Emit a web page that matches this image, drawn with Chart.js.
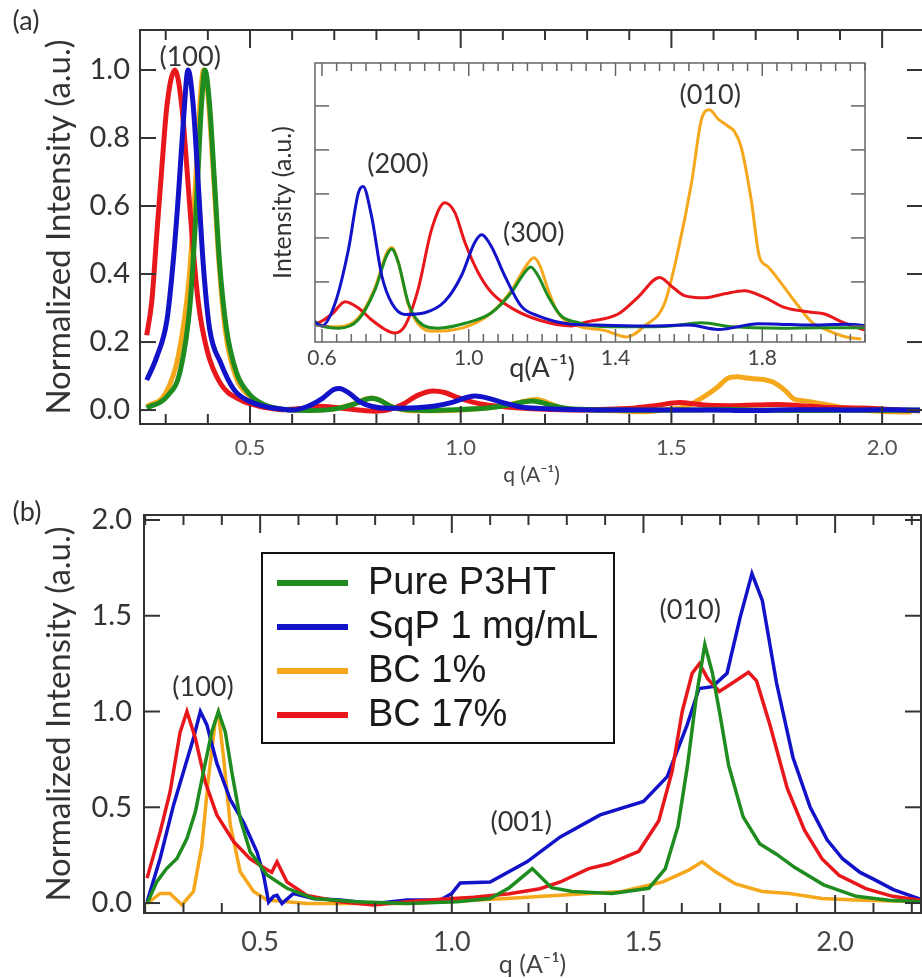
<!DOCTYPE html>
<html>
<head>
<meta charset="utf-8">
<title>P3HT line cuts</title>
<script src="https://cdn.jsdelivr.net/npm/chart.js@4.4.1/dist/chart.umd.min.js"></script>
<style>
  html, body { margin: 0; padding: 0; background: #fff; overflow: hidden; }
  #page { position: relative; width: 922px; height: 978px; overflow: hidden; }
  canvas { position: absolute; }
  #panelA { left: 0; top: 0; }
  #inset { left: 250px; top: 50px; }
  #panelB { left: 0; top: 490px; }
</style>
</head>
<body>
<div id="page">
  <canvas id="panelA" width="940" height="490"></canvas>
  <canvas id="inset" width="630" height="340"></canvas>
  <canvas id="panelB" width="940" height="488"></canvas>
</div>
<script>
// ---- series labels and colours ----
const seriesNames = ['Pure P3HT', 'SqP 1 mg/mL', 'BC 1%', 'BC 17%'];
const seriesColors = ['#1e8c1e', '#1212c8', '#f5a81c', '#e8171b'];

// ---- panel (a): [q, normalized intensity] ----
const greenA = [
  [0.255,0.006],[0.303,0.04],[0.335,0.118],[0.358,0.314],[0.373,0.608],[0.385,0.9],[0.393,1.0],[0.404,0.9],
  [0.416,0.667],[0.428,0.43],[0.444,0.24],[0.468,0.11],[0.5,0.045],[0.53,0.018],[0.56,0.006],[0.6,0],
  [0.645,-0.001],[0.699,0.0028],[0.745,0.0166],[0.776,0.0318],[0.79,0.035],[0.808,0.0288],[0.835,0.0106],
  [0.862,0.0022],[0.917,-0.001],[0.99,0.0012],[1.062,0.006],[1.116,0.0152],[1.152,0.0242],[1.169,0.0268],
  [1.189,0.0228],[1.216,0.0136],[1.252,0.0046],[1.297,0.0016],[1.343,0],[1.45,-0.0004],[1.55,0],
  [1.634,0.0014],[1.72,-0.0004],[1.85,-0.001],[1.95,-0.0008],[2.09,-0.0008]
];
const blueA = [
  [0.255,0.088],[0.279,0.157],[0.303,0.265],[0.318,0.44],[0.33,0.63],[0.342,0.85],[0.353,1.0],[0.365,0.9],
  [0.377,0.67],[0.389,0.43],[0.404,0.24],[0.43,0.14],[0.462,0.06],[0.5,0.025],[0.54,0.009],[0.58,0.002],
  [0.6,0],[0.636,0.0104],[0.672,0.0346],[0.699,0.0604],[0.712,0.0634],[0.735,0.05],[0.763,0.0228],
  [0.79,0.0104],[0.826,0.0052],[0.88,0.006],[0.935,0.0112],[0.98,0.0228],[1.016,0.0378],[1.035,0.0414],
  [1.062,0.036],[1.098,0.0228],[1.143,0.009],[1.189,0.0046],[1.28,0.0008],[1.35,0.0004],[1.5,0],
  [1.6,0.0004],[1.68,-0.0016],[1.79,0.001],[1.88,0.0006],[1.95,0.0004],[2.03,0.0008],[2.09,0]
];
const orangeA = [
  [0.255,0.01],[0.3,0.05],[0.33,0.16],[0.355,0.38],[0.37,0.65],[0.383,0.93],[0.39,1.0],[0.4,0.93],
  [0.413,0.7],[0.426,0.44],[0.442,0.23],[0.466,0.1],[0.5,0.04],[0.53,0.016],[0.56,0.005],[0.6,0],
  [0.645,-0.0004],[0.699,0.0036],[0.745,0.0176],[0.776,0.033],[0.79,0.0356],[0.808,0.029],[0.835,0.01],
  [0.862,0.001],[0.9,-0.0024],[0.95,-0.002],[1.0,0],[1.062,0.006],[1.116,0.016],[1.155,0.027],
  [1.178,0.031],[1.195,0.027],[1.216,0.0166],[1.243,0.006],[1.297,0],[1.37,-0.002],[1.43,-0.005],
  [1.479,0],[1.534,0.0104],[1.571,0.0346],[1.607,0.0648],[1.634,0.0936],[1.656,0.0982],[1.68,0.094],
  [1.705,0.091],[1.724,0.0884],[1.742,0.0816],[1.77,0.0572],[1.792,0.0316],[1.815,0.027],[1.892,0.0104],
  [1.937,0.0014],[1.964,-0.001],[2.028,-0.005],[2.07,-0.006]
];
const redA = [
  [0.255,0.22],[0.267,0.32],[0.279,0.52],[0.291,0.716],[0.303,0.896],[0.322,1.0],[0.338,0.896],[0.35,0.716],
  [0.362,0.52],[0.377,0.32],[0.398,0.176],[0.43,0.078],[0.477,0.03],[0.52,0.012],[0.555,0.004],
  [0.58,0.001],[0.627,0.0054],[0.663,0.011],[0.699,0.0082],[0.735,0.0028],[0.772,-0.0016],[0.797,-0.0032],
  [0.826,0],[0.862,0.0166],[0.899,0.044],[0.935,0.056],[0.962,0.0516],[0.99,0.0378],[1.026,0.0242],
  [1.062,0.0152],[1.116,0.0082],[1.189,0.0028],[1.28,0],[1.316,0.0016],[1.407,0.0054],[1.461,0.013],
  [1.52,0.022],[1.556,0.0176],[1.588,0.0138],[1.643,0.0128],[1.697,0.0146],[1.751,0.016],[1.806,0.013],
  [1.86,0.0084],[1.933,0.0062],[1.97,0.0054],[2.02,0.0016],[2.07,-0.0014],[2.09,-0.002]
];

// ---- panel (b): [q, normalized intensity] ----
const greenB = [
  [0.205,-0.003],[0.23,0.11],[0.256,0.18],[0.283,0.233],[0.309,0.337],[0.331,0.476],[0.352,0.685],[0.374,0.894],
  [0.391,1.0],[0.409,0.894],[0.426,0.685],[0.448,0.44],[0.474,0.267],[0.518,0.146],[0.57,0.077],[0.639,0.024],
  [0.752,0.007],[0.883,-0.003],[1.013,0.007],[1.1,0.024],[1.15,0.08],[1.21,0.18],[1.26,0.08],[1.314,0.06],
  [1.418,0.05],[1.514,0.077],[1.557,0.18],[1.59,0.4],[1.615,0.72],[1.638,1.08],[1.66,1.35],[1.68,1.2],
  [1.7,0.98],[1.722,0.72],[1.76,0.45],[1.803,0.31],[1.847,0.255],[1.895,0.185],[1.97,0.095],[2.055,0.035],
  [2.14,0.015],[2.222,0.007]
];
const blueB = [
  [0.205,0.005],[0.239,0.233],[0.274,0.511],[0.305,0.72],[0.326,0.86],[0.344,1.0],[0.361,0.93],[0.387,0.73],
  [0.422,0.54],[0.457,0.42],[0.492,0.265],[0.509,0.146],[0.522,0.005],[0.535,0.035],[0.544,0.04],[0.557,-0.003],
  [0.587,0.05],[0.639,0.024],[0.709,0.016],[0.796,-0.003],[0.883,0.016],[0.97,0.016],[1.0,0.05],[1.022,0.105],
  [1.1,0.11],[1.196,0.215],[1.283,0.345],[1.387,0.46],[1.5,0.53],[1.562,0.66],[1.614,0.93],[1.645,1.12],
  [1.68,1.13],[1.718,1.2],[1.752,1.49],[1.783,1.72],[1.81,1.58],[1.847,1.15],[1.89,0.76],[1.935,0.5],
  [1.979,0.33],[2.02,0.23],[2.065,0.16],[2.1,0.125],[2.152,0.07],[2.222,0.02]
];
const orangeB = [
  [0.205,-0.003],[0.239,0.05],[0.265,0.05],[0.296,-0.01],[0.326,0.06],[0.348,0.3],[0.365,0.65],[0.383,0.95],
  [0.391,0.99],[0.404,0.77],[0.422,0.41],[0.448,0.163],[0.483,0.06],[0.518,0.016],[0.622,-0.003],[0.883,-0.003],
  [1.144,0.024],[1.27,0.04],[1.444,0.06],[1.549,0.11],[1.618,0.172],[1.653,0.215],[1.688,0.163],[1.74,0.1],
  [1.81,0.06],[1.88,0.05],[1.966,0.024],[2.053,0.016],[2.222,0.007]
];
const redB = [
  [0.205,0.13],[0.239,0.37],[0.265,0.58],[0.291,0.89],[0.309,1.0],[0.331,0.86],[0.357,0.63],[0.387,0.46],
  [0.431,0.32],[0.474,0.23],[0.513,0.18],[0.53,0.16],[0.544,0.215],[0.57,0.11],[0.622,0.04],[0.709,0.007],
  [0.796,-0.01],[0.883,0.007],[0.97,0.02],[1.057,0.03],[1.15,0.048],[1.23,0.075],[1.283,0.11],[1.357,0.18],
  [1.41,0.205],[1.488,0.27],[1.54,0.43],[1.575,0.69],[1.601,1.0],[1.627,1.2],[1.646,1.25],[1.668,1.17],
  [1.698,1.105],[1.737,1.155],[1.774,1.205],[1.795,1.16],[1.83,0.93],[1.875,0.6],[1.92,0.38],[1.966,0.23],
  [2.01,0.145],[2.08,0.075],[2.15,0.035],[2.222,0.015]
];

// ---- tick labels ----
const xTicksA = [0.5, 1.0, 1.5, 2.0];
const yTicksA = [0.0, 0.2, 0.4, 0.6, 0.8, 1.0];
const xTicksInset = [0.6, 1.0, 1.4, 1.8];
const yMarksInset = [0, 0.02, 0.04, 0.06, 0.08, 0.1];
const xTicksB = [0.5, 1.0, 1.5, 2.0];
const yTicksB = [0.0, 0.5, 1.0, 1.5, 2.0];

// ---- peak labels: [text, q, intensity] ----
const peaksA = [['(100)', 0.358, 1.038]];
const peaksInset = [['(200)', 0.807, 0.0736], ['(300)', 1.177, 0.0423], ['(010)', 1.658, 0.105]];
const peaksB = [['(100)', 0.351, 1.128], ['(001)', 1.181, 0.423], ['(010)', 1.622, 1.53]];

const TEXT = '#333';
const FONT = 'Lato, "Open Sans", sans-serif';

const toXY = pts => pts.map(p => ({ x: p[0], y: p[1] }));

// drawing order: lower "order" ends up on top
function makeDatasets(series, width, tension, orders) {
  return series.map((pts, i) => ({
    label: seriesNames[i],
    data: toXY(pts),
    borderColor: seriesColors[i],
    borderWidth: width,
    pointRadius: 0,
    fill: false,
    tension: tension,
    cubicInterpolationMode: tension ? 'monotone' : 'default',
    order: orders[i]
  }));
}

// box frame with inward tick marks on all four sides
const frameTicks = {
  id: 'frameTicks',
  beforeDraw(chart, args, o) {
    if (!o.fill) return;
    const a = chart.chartArea, ctx = chart.ctx;
    ctx.save();
    ctx.fillStyle = o.fill;
    ctx.fillRect(a.left, a.top, a.right - a.left, a.bottom - a.top);
    ctx.restore();
  },
  afterDraw(chart, args, o) {
    const { ctx, chartArea: a, scales } = chart;
    const mark = (x1, y1, x2, y2) => { ctx.beginPath(); ctx.moveTo(x1, y1); ctx.lineTo(x2, y2); ctx.stroke(); };
    const isMajor = v => o.xMajor.some(m => Math.abs(m - v) < 1e-6);
    ctx.save();
    ctx.strokeStyle = o.color;
    ctx.lineWidth = o.lineWidth;
    for (let i = 0; ; i++) {
      const v = +(o.xMinorFrom + i * o.xMinorStep).toFixed(4);
      if (v > scales.x.max) break;
      const px = scales.x.getPixelForValue(v);
      if (px <= a.left + 1) continue;
      const len = isMajor(v) ? o.majorLen : o.minorLen;
      mark(px, a.bottom, px, a.bottom - len);
      mark(px, a.top, px, a.top + len);
    }
    for (const v of o.yMarks) {
      const py = scales.y.getPixelForValue(v);
      mark(a.left, py, a.left + o.yLen, py);
      mark(a.right, py, a.right - o.yLen, py);
    }
    ctx.strokeRect(a.left, a.top, a.right - a.left, a.bottom - a.top);
    ctx.restore();
  }
};

// peak labels in data coordinates, plus free text in canvas pixels
const notes = {
  id: 'notes',
  afterDraw(chart, args, o) {
    const { ctx, scales: { x, y } } = chart;
    ctx.save();
    ctx.textAlign = 'center';
    ctx.textBaseline = 'middle';
    ctx.fillStyle = o.color;
    ctx.font = o.font;
    for (const [text, q, v] of o.peaks) ctx.fillText(text, x.getPixelForValue(q), y.getPixelForValue(v));
    for (const t of o.free) {
      ctx.font = t.font;
      const px = t.q !== undefined ? x.getPixelForValue(t.q) : t.px;
      ctx.fillText(t.text, px, t.py);
    }
    ctx.restore();
  }
};

// framed legend placed inside the plot
const boxLegend = {
  id: 'boxLegend',
  afterDraw(chart, args, o) {
    const ctx = chart.ctx;
    const [bx, by, bw, bh] = o.box;
    ctx.save();
    ctx.fillStyle = '#fff';
    ctx.fillRect(bx, by, bw, bh);
    ctx.strokeStyle = '#111';
    ctx.lineWidth = 2;
    ctx.strokeRect(bx, by, bw, bh);
    ctx.font = o.font;
    ctx.textAlign = 'left';
    ctx.textBaseline = 'middle';
    chart.data.datasets.forEach((ds, i) => {
      const yy = o.firstRow + i * o.rowGap;
      ctx.strokeStyle = ds.borderColor;
      ctx.lineWidth = o.sampleWidth;
      ctx.beginPath();
      ctx.moveTo(o.sampleX[0], yy);
      ctx.lineTo(o.sampleX[1], yy);
      ctx.stroke();
      ctx.fillStyle = '#1a1a1a';
      ctx.fillText(ds.label, o.textX, yy + 1);
    });
    ctx.restore();
  }
};

const fixTicks = list => scale => { scale.ticks = list.map(value => ({ value })); };
const oneDecimal = v => Number(v).toFixed(1);

// ---------- panel (a) ----------
new Chart(document.getElementById('panelA'), {
  type: 'line',
  data: { datasets: makeDatasets([greenA, blueA, orangeA, redA], 5, 0.4, [1, 0, 3, 2]) },
  options: {
    responsive: false,
    animation: false,
    events: [],
    layout: { padding: { top: 30, right: 17, left: 0, bottom: 0 } },
    scales: {
      x: {
        type: 'linear', min: 0.239, max: 2.097,
        afterFit: s => { s.height = 66; },
        afterBuildTicks: fixTicks(xTicksA),
        grid: { display: false, drawTicks: false },
        border: { display: false },
        ticks: { padding: 11, color: '#555', font: { family: FONT, size: 22 }, callback: oneDecimal },
        title: { display: true, text: 'q (A\u207B\u00B9)', color: '#444', font: { family: FONT, size: 21 }, padding: { top: 0, bottom: 2 } }
      },
      y: {
        min: -0.041, max: 1.1176,
        afterFit: s => { s.width = 140; },
        afterBuildTicks: fixTicks(yTicksA),
        grid: { display: false, drawTicks: false },
        border: { display: false },
        ticks: { padding: 10, color: TEXT, font: { family: FONT, size: 29, lineHeight: 1.0 }, callback: oneDecimal },
        title: { display: true, text: 'Normalized Intensity (a.u.)', color: TEXT, font: { family: FONT, size: 33 }, padding: { top: 40 } }
      }
    },
    plugins: {
      legend: { display: false },
      tooltip: { enabled: false },
      frameTicks: { color: '#333', lineWidth: 2, xMinorFrom: 0.3, xMinorStep: 0.1, xMajor: xTicksA, majorLen: 18, minorLen: 10, yMarks: yTicksA, yLen: 16 },
      notes: { color: TEXT, font: '27px ' + FONT, peaks: peaksA, free: [{ text: '(a)', px: 26, py: 21, font: '27px ' + FONT }] }
    }
  },
  plugins: [frameTicks, notes]
});

// ---------- inset of panel (a): same data, zoomed ----------
new Chart(document.getElementById('inset'), {
  type: 'line',
  data: { datasets: makeDatasets([greenA, blueA, orangeA, redA], 3, 0.4, [1, 0, 3, 2]) },
  options: {
    responsive: false,
    animation: false,
    events: [],
    layout: { padding: { top: 13, right: 15, left: 0, bottom: 0 } },
    scales: {
      x: {
        type: 'linear', min: 0.581, max: 2.08,
        afterFit: s => { s.height = 48; },
        afterBuildTicks: fixTicks(xTicksInset),
        grid: { display: false, drawTicks: false },
        border: { display: false },
        ticks: { padding: 4, color: '#444', font: { family: FONT, size: 21 }, callback: oneDecimal }
      },
      y: {
        min: -0.0073, max: 0.1195,
        afterFit: s => { s.width = 65; },
        grid: { display: false, drawTicks: false },
        border: { display: false },
        ticks: { display: false },
        title: { display: true, text: 'Intensity (a.u.)', color: TEXT, font: { family: FONT, size: 25 }, padding: { top: 18 } }
      }
    },
    plugins: {
      legend: { display: false },
      tooltip: { enabled: false },
      frameTicks: { fill: '#fff', color: '#666', lineWidth: 1.5, xMinorFrom: 0.6, xMinorStep: 0.04, xMajor: xTicksInset, majorLen: 13, minorLen: 8, yMarks: yMarksInset, yLen: 14 },
      notes: { color: TEXT, font: '27px ' + FONT, peaks: peaksInset, free: [{ text: 'q(A\u207B\u00B9)', q: 1.2, py: 318, font: '27px ' + FONT }] }
    }
  },
  plugins: [frameTicks, notes]
});

// ---------- panel (b) ----------
new Chart(document.getElementById('panelB'), {
  type: 'line',
  data: { datasets: makeDatasets([greenB, blueB, orangeB, redB], 3.5, 0, [0, 2, 3, 1]) },
  options: {
    responsive: false,
    animation: false,
    events: [],
    layout: { padding: { top: 25, right: 19, left: 0, bottom: 0 } },
    scales: {
      x: {
        type: 'linear', min: 0.197, max: 2.224,
        afterFit: s => { s.height = 65; },
        afterBuildTicks: fixTicks(xTicksB),
        grid: { display: false, drawTicks: false },
        border: { display: false },
        ticks: { padding: 13, color: '#444', font: { family: FONT, size: 27 }, callback: oneDecimal },
        title: { display: true, text: 'q (A\u207B\u00B9)', color: '#444', font: { family: FONT, size: 25 }, padding: { top: 0, bottom: -2 } }
      },
      y: {
        min: -0.052, max: 2.026,
        afterFit: s => { s.width = 144; },
        afterBuildTicks: fixTicks(yTicksB),
        grid: { display: false, drawTicks: false },
        border: { display: false },
        ticks: { padding: 12, color: TEXT, font: { family: FONT, size: 29, lineHeight: 0.8 }, callback: oneDecimal },
        title: { display: true, text: 'Normalized Intensity (a.u.)', color: TEXT, font: { family: FONT, size: 33 }, padding: { top: 40 } }
      }
    },
    plugins: {
      legend: { display: false },
      tooltip: { enabled: false },
      frameTicks: { color: '#333', lineWidth: 2, xMinorFrom: 0.2, xMinorStep: 0.1, xMajor: xTicksB, majorLen: 18, minorLen: 10, yMarks: yTicksB, yLen: 16 },
      notes: { color: TEXT, font: '27px ' + FONT, peaks: peaksB, free: [{ text: '(b)', px: 27, py: 22, font: '27px ' + FONT }] },
      boxLegend: { box: [262, 63, 352, 190], firstRow: 93, rowGap: 44, sampleX: [277, 348], sampleWidth: 6, textX: 368, font: '38px "Liberation Sans", Arial, sans-serif' }
    }
  },
  plugins: [frameTicks, notes, boxLegend]
});
</script>
</body>
</html>
